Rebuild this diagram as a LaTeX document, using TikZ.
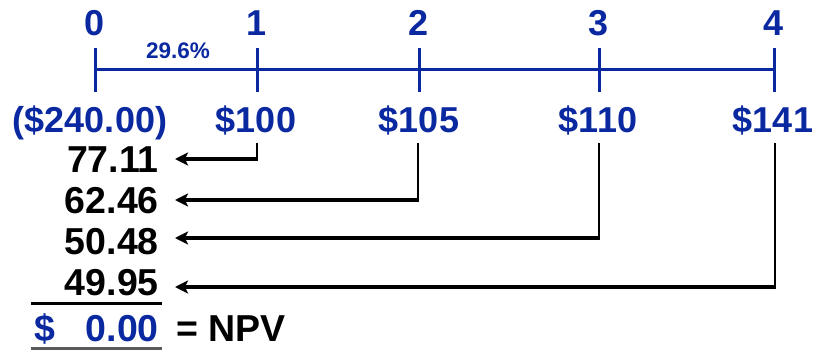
\documentclass[tikz,border=0pt]{standalone}
\usepackage{fontspec}
\setmainfont{Liberation Sans}
\usetikzlibrary{arrows.meta}
\definecolor{lineblue}{RGB}{10,40,160}
\definecolor{rulegray}{RGB}{90,90,90}
\begin{document}
\begin{tikzpicture}[x=1pt,y=-1pt,
  big/.style={font=\fontsize{36}{40}\selectfont\bfseries, inner sep=0pt},
  bigblack/.style={font=\fontsize{37.5}{40}\selectfont\bfseries, inner sep=0pt},
  period/.style={big, text=lineblue, anchor=base},
  cash/.style={big, text=lineblue, anchor=base},
  pv/.style={bigblack, anchor=base east},
  axis/.style={draw=lineblue, line width=3pt},
  drop/.style={line width=2.2pt},
  flow/.style={line width=4pt, -{Stealth[length=13pt,width=13pt,inset=3pt]}},
  rulebar/.style={line width=3pt}]
\useasboundingbox (0,0) rectangle (814,350);

% time line with period marks
\foreach \i/\x in {0/95,1/257,2/419,3/599,4/774} {
  \node[period] (p\i) at (\x,36) {\i};
  \coordinate (k\i) at (\x,70);
  \draw[axis] ([yshift=-22pt]k\i) -- ([yshift=22pt]k\i);
}
\draw[axis] (k0) -- (k4);
\node[font=\fontsize{22.5}{24}\selectfont\bfseries, text=lineblue, anchor=base, inner sep=0pt] (rate) at (178,59) {29.6\%};

% cash flows
\node[cash] (c0) at (90,133) {(\$240.00)};
\node[cash] (c1) at (256,133) {\$100};
\node[cash] (c2) at (419,133) {\$105};
\node[cash] (c3) at (598,133) {\$110};
\node[cash] (c4) at (773,133) {\$141};

% present values
\node[pv] (v1) at (159,172) {77.11};
\node[pv] (v2) at (159,213) {62.46};
\node[pv] (v3) at (159,254) {50.48};
\node[pv] (v4) at (159,295) {49.95};

% discounting arrows
\foreach \i/\x/\y in {1/257/159,2/418/200,3/599/238,4/775/287} {
  \coordinate (s\i) at (\x,143);
  \coordinate (b\i) at (\x,\y+2);
  \coordinate (h\i) at (\x+1.1,\y);
  \coordinate (e\i) at (175,\y);
  \draw[drop] (s\i) -- (b\i);
  \draw[flow] (h\i) -- (e\i);
}

% sum
\coordinate (r1a) at (31,303);
\coordinate (r1b) at (162,303);
\draw[rulebar] (r1a) -- (r1b);
\node[bigblack, text=lineblue, anchor=base west] (dollar) at (34,341) {\$};
\node[pv, text=lineblue] (total) at (159,341) {0.00};
\node[bigblack, anchor=base west] (npv) at (176,341) {= NPV};
\coordinate (r2a) at (31,348);
\coordinate (r2b) at (162,348);
\draw[rulebar, draw=rulegray] (r2a) -- (r2b);
\end{tikzpicture}
\end{document}
